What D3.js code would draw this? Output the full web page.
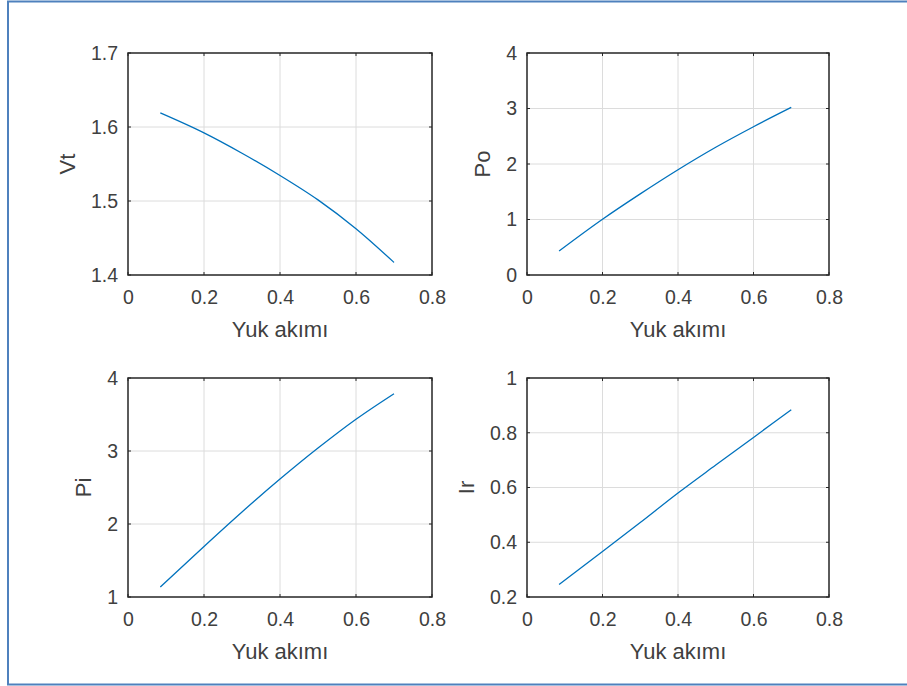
<!DOCTYPE html>
<html>
<head>
<meta charset="utf-8">
<script src="https://cdn.jsdelivr.net/npm/d3@7"></script>
<style>
  html, body { margin: 0; padding: 0; background: #fff; }
  svg { display: block; }
  text { font-family: "Liberation Sans", Arial, Helvetica, sans-serif; }
</style>
</head>
<body>
<svg id="chart" width="907" height="686"></svg>
<script>
// ---- data ----
const current = [0.085, 0.2, 0.3, 0.4, 0.5, 0.6, 0.7];          // Yuk akımı
const vtValues = [1.619, 1.592, 1.5645, 1.5345, 1.5015, 1.4625, 1.417];
const poValues = [0.433, 1.005, 1.462, 1.897, 2.302, 2.672, 3.02];
const piValues = [1.137, 1.693, 2.165, 2.615, 3.04, 3.435, 3.785];
const irValues = [0.246, 0.366, 0.472, 0.580, 0.682, 0.783, 0.884];

const xTicks = [0, 0.2, 0.4, 0.6, 0.8];
const vtTicks = [1.4, 1.5, 1.6, 1.7];
const poTicks = [0, 1, 2, 3, 4];
const piTicks = [1, 2, 3, 4];
const irTicks = [0.2, 0.4, 0.6, 0.8, 1];

const xLabel = "Yuk akımı";
const yLabels = ["Vt", "Po", "Pi", "Ir"];

// ---- layout ----
const panels = [
  { label: yLabels[0], values: vtValues, ticks: vtTicks, domain: [1.4, 1.7], box: { x0: 128, x1: 432, y0: 53, y1: 275 } },
  { label: yLabels[1], values: poValues, ticks: poTicks, domain: [0, 4],     box: { x0: 527, x1: 829, y0: 53, y1: 275 } },
  { label: yLabels[2], values: piValues, ticks: piTicks, domain: [1, 4],     box: { x0: 128, x1: 432, y0: 378, y1: 597 } },
  { label: yLabels[3], values: irValues, ticks: irTicks, domain: [0.2, 1],   box: { x0: 527, x1: 829, y0: 378, y1: 597 } }
];

const svg = d3.select("#chart");
const fmt = d3.format("~g");
const axisColor = "#262626";
const textColor = "#404040";
const tickFont = 19.5;
const labelFont = 22;

// outer picture frame
svg.append("rect")
  .attr("x", 8).attr("y", 1.5).attr("width", 1000).attr("height", 683)
  .attr("fill", "#fff").attr("stroke", "#4f81bd").attr("stroke-width", 2);

panels.forEach(p => {
  const b = p.box;
  const x = d3.scaleLinear().domain([0, 0.8]).range([b.x0, b.x1]);
  const y = d3.scaleLinear().domain(p.domain).range([b.y1, b.y0]);
  const g = svg.append("g");

  // grid
  g.append("g").selectAll("line").data(xTicks.slice(1, -1)).join("line")
    .attr("x1", d => x(d)).attr("x2", d => x(d)).attr("y1", b.y0).attr("y2", b.y1)
    .attr("stroke", "#dcdcdc").attr("stroke-width", 1);
  g.append("g").selectAll("line").data(p.ticks.slice(1, -1)).join("line")
    .attr("y1", d => y(d)).attr("y2", d => y(d)).attr("x1", b.x0).attr("x2", b.x1)
    .attr("stroke", "#dcdcdc").attr("stroke-width", 1);

  // inward tick marks on all four sides
  const tl = 3;
  const tg = g.append("g").attr("stroke", axisColor).attr("stroke-width", 1);
  xTicks.forEach(t => {
    tg.append("line").attr("x1", x(t)).attr("x2", x(t)).attr("y1", b.y1).attr("y2", b.y1 - tl);
    tg.append("line").attr("x1", x(t)).attr("x2", x(t)).attr("y1", b.y0).attr("y2", b.y0 + tl);
  });
  p.ticks.forEach(t => {
    tg.append("line").attr("y1", y(t)).attr("y2", y(t)).attr("x1", b.x0).attr("x2", b.x0 + tl);
    tg.append("line").attr("y1", y(t)).attr("y2", y(t)).attr("x1", b.x1).attr("x2", b.x1 - tl);
  });

  // axes (labels only)
  const xa = g.append("g").attr("transform", `translate(0,${b.y1})`)
    .call(d3.axisBottom(x).tickValues(xTicks).tickFormat(fmt).tickSize(0).tickPadding(15));
  const ya = g.append("g").attr("transform", `translate(${b.x0},0)`)
    .call(d3.axisLeft(y).tickValues(p.ticks).tickFormat(fmt).tickSize(0).tickPadding(10));
  [xa, ya].forEach(a => {
    a.select(".domain").remove();
    a.selectAll("text").attr("font-size", tickFont).attr("fill", textColor)
      .attr("font-family", '"Liberation Sans", Arial, sans-serif');
  });

  // line
  const line = d3.line().x((d, i) => x(current[i])).y(d => y(d)).curve(d3.curveMonotoneX);
  g.append("path").datum(p.values).attr("d", line)
    .attr("fill", "none").attr("stroke", "#0072bd").attr("stroke-width", 1.3);

  // box
  g.append("rect").attr("x", b.x0).attr("y", b.y0)
    .attr("width", b.x1 - b.x0).attr("height", b.y1 - b.y0)
    .attr("fill", "none").attr("stroke", axisColor).attr("stroke-width", 1.5);

  // x label
  g.append("text").attr("x", (b.x0 + b.x1) / 2).attr("y", b.y1 + 62)
    .attr("text-anchor", "middle").attr("font-size", labelFont).attr("fill", textColor)
    .text(xLabel);

  // y label, placed left of the tick labels
  const bb = ya.node().getBBox();
  const lx = b.x0 + bb.x - 24;
  const ly = (b.y0 + b.y1) / 2;
  g.append("text").attr("transform", `translate(${lx},${ly}) rotate(-90)`)
    .attr("text-anchor", "middle").attr("dy", "0.35em")
    .attr("font-size", labelFont).attr("fill", textColor)
    .text(p.label);
});
</script>
</body>
</html>
